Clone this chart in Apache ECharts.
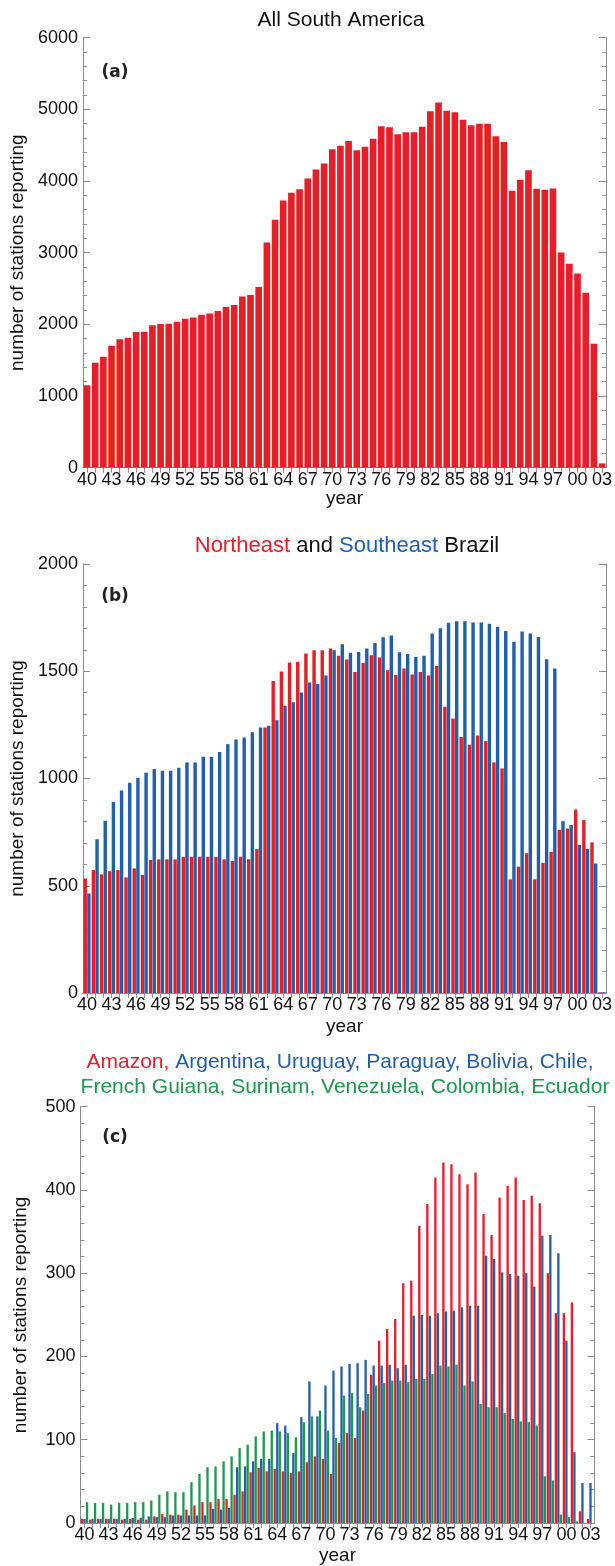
<!DOCTYPE html>
<html><head><meta charset="utf-8">
<script src="https://cdn.jsdelivr.net/npm/echarts@6/dist/echarts.min.js"></script>
<style>html,body{margin:0;padding:0;background:#fff}#c{width:615px;height:1566px}</style>
</head><body><div id="c"></div>
<script>
// ---------------- data ----------------
const years = ['40','41','42','43','44','45','46','47','48','49',
  '50','51','52','53','54','55','56','57','58','59',
  '60','61','62','63','64','65','66','67','68','69',
  '70','71','72','73','74','75','76','77','78','79',
  '80','81','82','83','84','85','86','87','88','89',
  '90','91','92','93','94','95','96','97','98','99',
  '00','01','02','03'];

// (a) All South America
const allSouthAmerica = [1150,1465,1548,1702,1791,1813,1893,1897,1986,2004,
  2010,2036,2078,2097,2134,2153,2185,2241,2269,2390,
  2409,2520,3143,3459,3729,3836,3887,4036,4161,4245,
  4445,4491,4557,4431,4477,4589,4766,4752,4654,4682,
  4682,4756,4975,5096,4979,4961,4854,4780,4798,4798,
  4626,4543,3864,4017,4152,3892,3878,3897,3004,2846,
  2711,2441,1730,60];

// (b) Brazil
const northeastBrazil = [534,573,553,568,573,539,581,550,620,623,
  623,623,635,635,635,635,635,623,615,635,
  623,671,1238,1455,1499,1541,1544,1583,1598,1598,
  1606,1572,1555,1496,1539,1575,1564,1505,1483,1513,
  1485,1497,1480,1524,1334,1280,1194,1157,1201,1174,
  1075,1047,530,589,651,530,607,658,760,767,
  856,806,702,4];
const southeastBrazil = [464,717,803,891,944,980,1003,1027,1044,1036,
  1036,1050,1075,1075,1101,1101,1124,1160,1182,1191,
  1216,1238,1246,1272,1339,1355,1401,1448,1441,1480,
  1598,1626,1586,1590,1606,1632,1659,1667,1588,1580,
  1567,1572,1676,1701,1726,1733,1733,1727,1727,1721,
  1707,1688,1637,1685,1676,1660,1556,1513,801,783,
  690,671,604,4];

// (c) other regions
const amazon = [5,4,5,5,5,4,5,4,4,8,
  11,10,10,16,21,25,25,29,29,34,
  38,61,66,62,65,62,60,62,73,80,
  77,59,96,108,102,135,178,219,233,245,
  288,291,357,383,415,433,431,419,407,421,
  371,346,391,405,415,388,393,384,300,252,
  252,265,14,5];
const southCone = [5,5,5,5,5,5,6,6,8,7,
  7,9,9,9,9,9,17,16,18,67,
  68,74,77,77,120,117,84,127,170,128,
  165,183,188,191,192,196,189,189,190,186,
  190,249,250,249,252,254,255,259,261,261,
  321,317,301,299,297,300,284,345,346,324,
  219,85,48,48];
const northSA = [25,24,24,22,24,24,25,25,27,34,
  38,37,37,49,59,67,68,74,80,90,
  94,104,110,111,110,108,103,121,128,135,
  111,102,153,156,139,155,165,168,171,171,
  169,173,173,179,189,188,190,165,170,143,
  139,139,132,125,122,121,117,56,51,10,
  7,2,0,0];

// ---------------- styles ----------------
const RED = '#e61e26', BLUE = '#1f5fae', GREEN = '#1b9a4c';
const AX = '#8c8c8c', TXT = '#111';
const FONT = 'Liberation Sans';

const grids = [
  {left: 82.5, top: 37.7, width: 527, height: 430},
  {left: 82.5, top: 564, width: 527, height: 429},
  {left: 80.5, top: 1106.7, width: 514, height: 416.6}
];
const yCfg = [
  {max: 6000, interval: 1000, yearGap: 21},
  {max: 2000, interval: 500, yearGap: 24},
  {max: 500, interval: 100, yearGap: 23}
];

const xAxes = [], yAxes = [];
grids.forEach((g, i) => {
  xAxes.push({
    type: 'category', gridIndex: i, data: years, position: 'bottom',
    axisLine: {show: true, lineStyle: {color: AX}},
    axisTick: {show: false},
    axisLabel: {interval: 2, color: TXT, fontSize: 18, fontFamily: FONT, margin: 3},
    name: 'year', nameLocation: 'middle', nameGap: yCfg[i].yearGap,
    nameTextStyle: {color: TXT, fontSize: 19, fontFamily: FONT}
  });
  xAxes.push({
    type: 'category', gridIndex: i, data: years, position: 'top',
    axisLine: {show: true, lineStyle: {color: AX}},
    axisTick: {show: true, inside: true, alignWithLabel: true, interval: 0, length: 5, lineStyle: {color: AX}},
    axisLabel: {show: false}
  });
  yAxes.push({
    type: 'value', gridIndex: i, position: 'left', min: 0, max: yCfg[i].max, interval: yCfg[i].interval,
    axisLine: {show: true, lineStyle: {color: AX}},
    axisTick: {show: true, inside: true, length: 7, lineStyle: {color: AX}},
    minorTick: {show: true, splitNumber: 5, length: 4, lineStyle: {color: AX}},
    splitLine: {show: false},
    axisLabel: {color: TXT, fontSize: 18, fontFamily: FONT, margin: 5, formatter: (v) => String(v)},
    name: 'number of stations reporting', nameLocation: 'middle', nameRotate: 90, nameGap: 50,
    nameTextStyle: {color: TXT, fontSize: 19, fontFamily: FONT}
  });
  yAxes.push({
    type: 'value', gridIndex: i, position: 'right', min: 0, max: yCfg[i].max, interval: yCfg[i].interval,
    axisLine: {show: true, lineStyle: {color: AX}},
    axisTick: {show: true, inside: true, length: 7, lineStyle: {color: AX}},
    minorTick: {show: true, splitNumber: 5, length: 4, lineStyle: {color: AX}},
    splitLine: {show: false},
    axisLabel: {show: false}
  });
});

const series = [
  {type: 'bar', xAxisIndex: 0, yAxisIndex: 0, data: allSouthAmerica, itemStyle: {color: RED}, barCategoryGap: '19%'},
  {type: 'bar', xAxisIndex: 2, yAxisIndex: 2, data: northeastBrazil, itemStyle: {color: RED}, barWidth: 3.4, barGap: '8%'},
  {type: 'bar', xAxisIndex: 2, yAxisIndex: 2, data: southeastBrazil, itemStyle: {color: BLUE}, barWidth: 3.4, barGap: '8%'},
  {type: 'bar', xAxisIndex: 4, yAxisIndex: 4, data: amazon, itemStyle: {color: RED}, barWidth: 2.3, barGap: '10%'},
  {type: 'bar', xAxisIndex: 4, yAxisIndex: 4, data: southCone, itemStyle: {color: BLUE}, barWidth: 2.3, barGap: '10%'},
  {type: 'bar', xAxisIndex: 4, yAxisIndex: 4, data: northSA, itemStyle: {color: GREEN}, barWidth: 2.3, barGap: '10%'}
];

function txt(x, y, text, size, color, weight, family, rich) {
  const st = {text: text, x: x, y: y, fontSize: size, fontFamily: family || FONT, fontWeight: weight || 'normal',
    fill: color || TXT, textAlign: 'center', textVerticalAlign: 'middle'};
  if (rich) st.rich = rich;
  return {type: 'text', z: 100, style: st};
}
const rs = (c, s) => ({fill: c, fontSize: s, fontFamily: FONT});
const graphic = [
  txt(341, 20, 'All South America', 21),
  txt(347, 546, '{r|Northeast} {k|and} {b|Southeast} {k|Brazil}', 22, TXT, 'normal', FONT,
      {r: rs(RED, 22), b: rs(BLUE, 22), k: rs(TXT, 22)}),
  txt(340, 1062, '{r|Amazon,} {b|Argentina, Uruguay, Paraguay, Bolivia, Chile,}', 21, TXT, 'normal', FONT,
      {r: rs(RED, 21), b: rs(BLUE, 21)}),
  txt(345, 1087, 'French Guiana, Surinam, Venezuela, Colombia, Ecuador', 21, GREEN),
  txt(115, 73, '(a)', 17, '#222', 'bold', 'DejaVu Sans'),
  txt(115, 597, '(b)', 17, '#222', 'bold', 'DejaVu Sans'),
  txt(115, 1138, '(c)', 17, '#222', 'bold', 'DejaVu Sans')
];

const chart = echarts.init(document.getElementById('c'), null, {renderer: 'canvas'});
chart.setOption({
  animation: false,
  backgroundColor: '#fff',
  grid: grids,
  xAxis: xAxes,
  yAxis: yAxes,
  series: series,
  graphic: graphic
});
</script></body></html>
